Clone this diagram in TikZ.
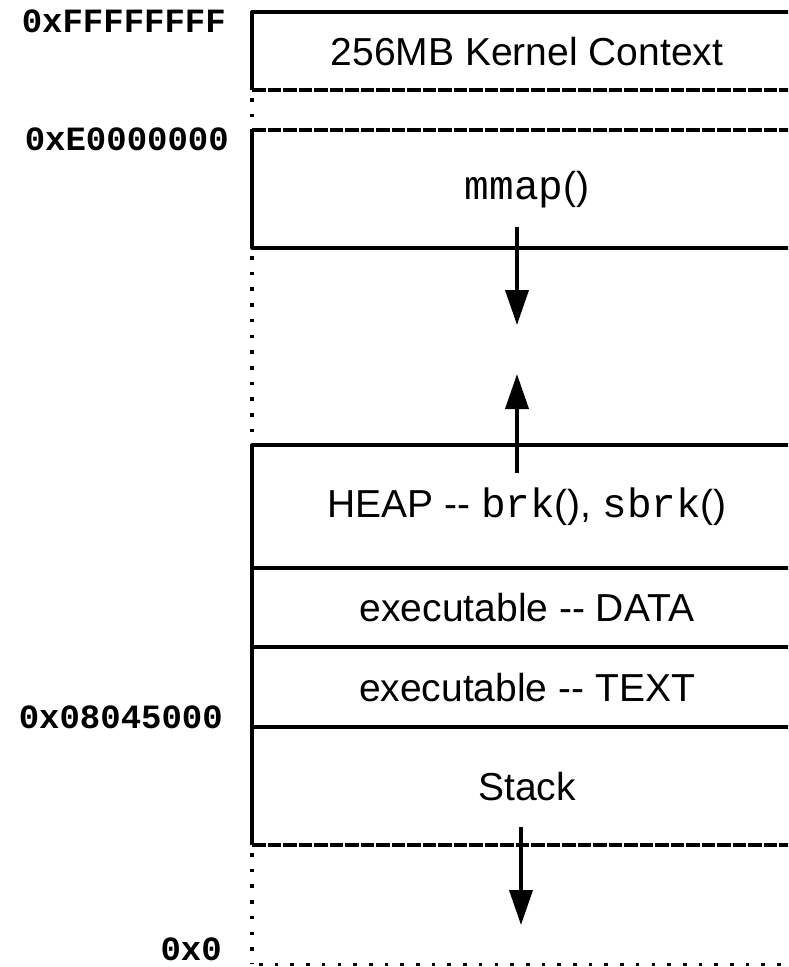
\documentclass[tikz,border=0pt]{standalone}
\usepackage{fontspec}
\setmainfont{Liberation Sans}
\setmonofont{Liberation Mono}
\usetikzlibrary{arrows.meta}
\begin{document}
\begin{tikzpicture}[x=1pt,y=-1pt,
  boxline/.style={line width=3.2pt, line join=round},
  dashline/.style={line width=3.2pt, dash pattern=on 13.5pt off 2pt},
  dotline/.style={line width=3.6pt, dash pattern=on 3.6pt off 12.1pt},
  addr/.style={font=\fontsize{34}{40}\selectfont\ttfamily\bfseries, anchor=east, inner sep=0pt},
  seg/.style={font=\fontsize{39}{45}\selectfont, inner sep=0pt},
  arr/.style={line width=3.8pt, -{Triangle[length=35pt,width=23pt]}}]
\useasboundingbox (0,0) rectangle (788,967);
\clip (0,0) rectangle (788,967);
% kernel box
\draw[boxline] (810,12) -- (252,12) -- (252,90);
\draw[dashline] (252,90) -- (810,90);
\draw[dotline] (252,98) -- (252,130);
% mmap box
\draw[dashline] (252,130) -- (810,130);
\draw[boxline] (252,130) -- (252,248) -- (810,248);
\draw[dotline] (252,256) -- (252,445);
% heap .. stack
\draw[boxline] (810,445) -- (252,445) -- (252,845);
\draw[boxline] (252,568) -- (810,568);
\draw[boxline] (252,647) -- (810,647);
\draw[boxline] (252,727) -- (810,727);
\draw[dashline] (252,845) -- (810,845);
\draw[dotline] (252,853) -- (252,964);
\draw[dotline] (259,964.5) -- (800,964.5);
% texts
\node[seg] (kernel) at (527,52) {256MB Kernel Context};
\node[seg] (mmap) at (527,190) {{\fontsize{41}{45}\selectfont\ttfamily mmap}()};
\node[seg] (heap) at (527,507) {HEAP -{}- {\fontsize{41}{45}\selectfont\ttfamily brk}(), {\fontsize{41}{45}\selectfont\ttfamily sbrk}()};
\node[seg] (data) at (527,608) {executable -{}- DATA};
\node[seg] (text) at (527,688) {executable -{}- TEXT};
\node[seg] (stack) at (527,787) {Stack};
% addresses
\node[addr] (aF) at (226,21) {0xFFFFFFFF};
\node[addr] (aE) at (229,139) {0xE0000000};
\node[addr] (a8) at (223,717) {0x08045000};
\node[addr] (a0) at (222,949) {0x0};
% arrows
\coordinate (m1) at (517,227);
\coordinate (m2) at (517,325);
\coordinate (h1) at (517,473);
\coordinate (h2) at (517,374);
\coordinate (s1) at (521,827);
\coordinate (s2) at (521,925);
\draw[arr] (m1) -- (m2);
\draw[arr] (h1) -- (h2);
\draw[arr] (s1) -- (s2);
\end{tikzpicture}
\end{document}
